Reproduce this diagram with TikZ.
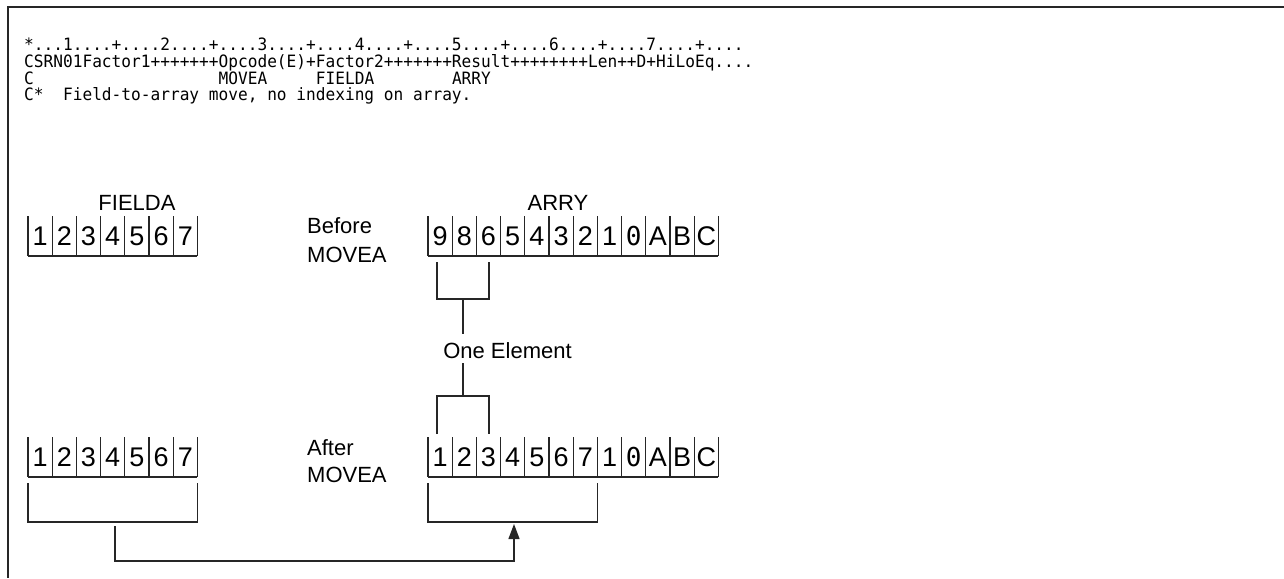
\documentclass[tikz,border=0pt]{standalone}
\usepackage{fontspec}
\setmainfont{Liberation Sans}
\newfontfamily\codefont{DejaVu Sans Mono}[FakeStretch=0.95]
\newfontfamily\zerofont{DejaVu Sans Mono}
\usetikzlibrary{arrows.meta}

\tikzset{
  codeline/.style={anchor=base west, inner sep=0pt,
    font=\codefont\fontsize{17}{19}\selectfont},
  title/.style={anchor=base, inner sep=0pt, font=\fontsize{22}{24}\selectfont},
  sidelabel/.style={anchor=base west, inner sep=0pt, font=\fontsize{22}{24}\selectfont},
  celltext/.style={anchor=base, inner sep=0pt, font=\fontsize{27}{28}\selectfont},
  wire/.style={line width=1.3pt, black!85},
  frame/.style={line width=1.5pt, black!85},
  movearrow/.style={wire, -{Triangle[width=11pt,length=15pt]}},
}

% A row of open-topped cells: name, left x, top y, number of cells, entries
\newcommand\cellrow[5]{%
  \foreach \t [count=\i from 0] in {#5} {
    \draw[wire] (#2+\i*24.2, #3) -- (#2+\i*24.2, #3+40);
    \node[celltext] (#1\i) at (#2+\i*24.2+12.1, #3+29) {\t};
  }
  \draw[wire] (#2+#4*24.2, #3) -- (#2+#4*24.2, #3+40);
  \draw[wire] (#2, #3+40) -- (#2+#4*24.2, #3+40);
}
\newcommand\zerochar{{\zerofont\fontsize{26}{28}\selectfont 0}}

\begin{document}
\begin{tikzpicture}[x=1pt, y=-1pt]
\useasboundingbox (0,0) rectangle (1284,578);

% open frame: top and left edges
\draw[frame] (1284,7) -- (8,7) -- (8,578);

% source listing
\node[codeline] (ruler) at (24,51) {*...1....+....2....+....3....+....4....+....5....+....6....+....7....+....};
\node[codeline] (head) at (24,67.5) {CSRN01Factor1+++++++Opcode(E)+Factor2+++++++Result++++++++Len++D+HiLoEq....};
\node[codeline] (stmt) at (24,84) {C~~~~~~~~~~~~~~~~~~~MOVEA~~~~~FIELDA~~~~~~~~ARRY};
\node[codeline] (comment) at (24,100.5) {C*~~Field-to-array move, no indexing on array.};

% before the move
\node[title] (fieldaname) at (137,210) {FIELDA};
\node[title] (arryname) at (558,210) {ARRY};
\cellrow{fa}{28}{216}{7}{1,2,3,4,5,6,7}
\node[sidelabel] (before1) at (307,233) {Before};
\node[sidelabel] (before2) at (307,262) {MOVEA};
\cellrow{ab}{428}{216}{12}{9,8,6,5,4,3,2,1,\zerochar,A,B,C}

% one element bracket
\node[title] (elem) at (507.5,358) {One Element};
\coordinate (ul) at (437,262);
\coordinate (ur) at (489,262);
\coordinate (uj) at (463,299);
\coordinate (ue) at (463,334);
\draw[wire] (ul) |- (uj) -| (ur);
\draw[wire] (uj) -- (ue);
\coordinate (ls) at (463,363);
\coordinate (lj) at (463,396);
\coordinate (ll) at (437,434);
\coordinate (lr) at (489,434);
\draw[wire] (ls) -- (lj);
\draw[wire] (ll) |- (lj) -| (lr);

% after the move
\cellrow{fb}{28}{437}{7}{1,2,3,4,5,6,7}
\node[sidelabel] (after1) at (307,455) {After};
\node[sidelabel] (after2) at (307,482) {MOVEA};
\cellrow{aa}{428}{437}{12}{1,2,3,4,5,6,7,1,\zerochar,A,B,C}

% brackets under the moved data
\coordinate (fl) at (28,483);
\coordinate (fr) at (197.4,483);
\coordinate (fj) at (115,522);
\draw[wire] (fl) |- (fj) -| (fr);
\coordinate (al) at (428,483);
\coordinate (ar) at (597.4,483);
\coordinate (aj) at (514,522);
\draw[wire] (al) |- (aj) -| (ar);

% move arrow
\coordinate (src) at (115,526);
\coordinate (floor) at (0,561);
\coordinate (dst) at (514,524);
\draw[movearrow] (src) -- (src |- floor) -| (dst);
\end{tikzpicture}
\end{document}
